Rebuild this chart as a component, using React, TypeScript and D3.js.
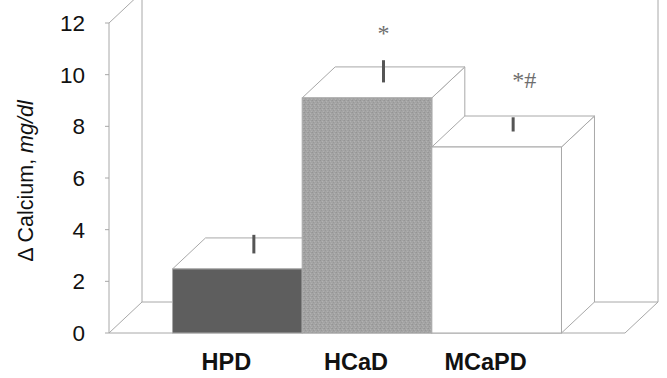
import * as d3 from "d3";

const categories = ["HPD", "HCaD", "MCaPD"];
const means = [2.48, 9.1, 7.2];
const errors = [0.72, 0.86, 0.55];
const marks = ["", "*", "*#"];
const yTicks = [0, 2, 4, 6, 8, 10, 12];

const FILLS = ["#5e5e5e", "url(#grain)", "#ffffff"];
const EDGE = "#a8a8a8";
// nudges for the significance marks, relative to the error bar top
const MARK_DX = [0, -6, -1];
const MARK_DY = [0, -19, -29];

const W = 667;
const H = 378;
const DX = 33; // depth offset
const DY = -31;

export default function App() {
  const x = d3.scaleBand<string>().domain(categories).range([109, 625]).paddingInner(0).paddingOuter(0.49);
  const y = d3.scaleLinear().domain([0, 12]).range([333, 23]);
  const y0 = y(0);
  const bw = x.bandwidth();

  const poly = (pts: [number, number][]) => pts.map((p) => p.join(",")).join(" ");

  return (
    <svg
      width={W}
      height={H}
      style={{ position: "absolute", left: 0, top: 0, display: "block", background: "#fff" }}
      fontFamily="'Liberation Sans', Arial, sans-serif"
    >
      <defs>
        <pattern id="grain" width="4" height="4" patternUnits="userSpaceOnUse">
          <rect width="4" height="4" fill="#a4a4a4" />
          <rect x="0" y="0" width="1" height="1" fill="#949494" />
          <rect x="2" y="1" width="1" height="1" fill="#b2b2b2" />
          <rect x="1" y="2" width="1" height="1" fill="#989898" />
          <rect x="3" y="3" width="1" height="1" fill="#b0b0b0" />
          <rect x="3" y="0" width="1" height="1" fill="#9c9c9c" />
        </pattern>
      </defs>

      {/* walls and floor */}
      <g stroke={EDGE} strokeWidth={1} fill="none">
        <line x1={109} y1={y(12)} x2={109} y2={y0} />
        <line x1={109} y1={y(12)} x2={109 + DX} y2={y(12) + DY} />
        <line x1={109 + DX} y1={y(12) + DY} x2={109 + DX} y2={y0 + DY} />
        <line x1={109} y1={y0} x2={109 + DX} y2={y0 + DY} />
        <line x1={109 + DX} y1={y0 + DY} x2={625 + DX} y2={y0 + DY} />
        <line x1={625 + DX} y1={y(12) + DY} x2={625 + DX} y2={y0 + DY} />
        <line x1={625} y1={y0} x2={625 + DX} y2={y0 + DY} />
        <line x1={109} y1={y0} x2={625} y2={y0} />
        {yTicks.map((t) => (
          <line key={t} x1={105} y1={y(t)} x2={109} y2={y(t)} />
        ))}
      </g>

      {/* y tick labels */}
      {yTicks.map((t) => (
        <text key={t} x={85} y={y(t)} dy="0.36em" textAnchor="end" fontSize={22.5} fill="#111">
          {t}
        </text>
      ))}

      {/* y title */}
      <text transform="translate(33,181) rotate(-90)" textAnchor="middle" fontSize={21.5} fill="#111">
        Δ Calcium, <tspan fontStyle="italic">mg/dl</tspan>
      </text>

      {/* bars */}
      {categories.map((c, i) => {
        const x0 = x(c)!;
        const x1 = x0 + bw;
        const yt = y(means[i]);
        return (
          <g key={c} stroke={EDGE} strokeWidth={1}>
            <polygon fill="#fff" points={poly([[x1, yt], [x1 + DX, yt + DY], [x1 + DX, y0 + DY], [x1, y0]])} />
            <polygon fill="#fff" points={poly([[x0, yt], [x0 + DX, yt + DY], [x1 + DX, yt + DY], [x1, yt]])} />
            <rect x={x0} y={yt} width={bw} height={y0 - yt} fill={FILLS[i]} />
          </g>
        );
      })}

      {/* error bars and marks */}
      {categories.map((c, i) => {
        const ex = x(c)! + bw / 2 + DX / 2;
        const eb = y(means[i]) + DY / 2;
        const et = y(means[i] + errors[i]) + DY / 2;
        return (
          <g key={c}>
            <line x1={ex} x2={ex} y1={eb} y2={et} stroke="#555" strokeWidth={3} />
            {marks[i] && (
              <text
                x={ex + MARK_DX[i]}
                y={et + MARK_DY[i]}
                fontFamily="'Liberation Serif', 'Times New Roman', serif"
                fontSize={24}
                fill="#6e6e6e"
              >
                {marks[i]}
              </text>
            )}
          </g>
        );
      })}

      {/* category labels */}
      {categories.map((c) => (
        <text key={c} x={x(c)! + bw / 2 - 11} y={370} textAnchor="middle" fontSize={23.5} fontWeight="bold" fill="#111">
          {c}
        </text>
      ))}
    </svg>
  );
}
